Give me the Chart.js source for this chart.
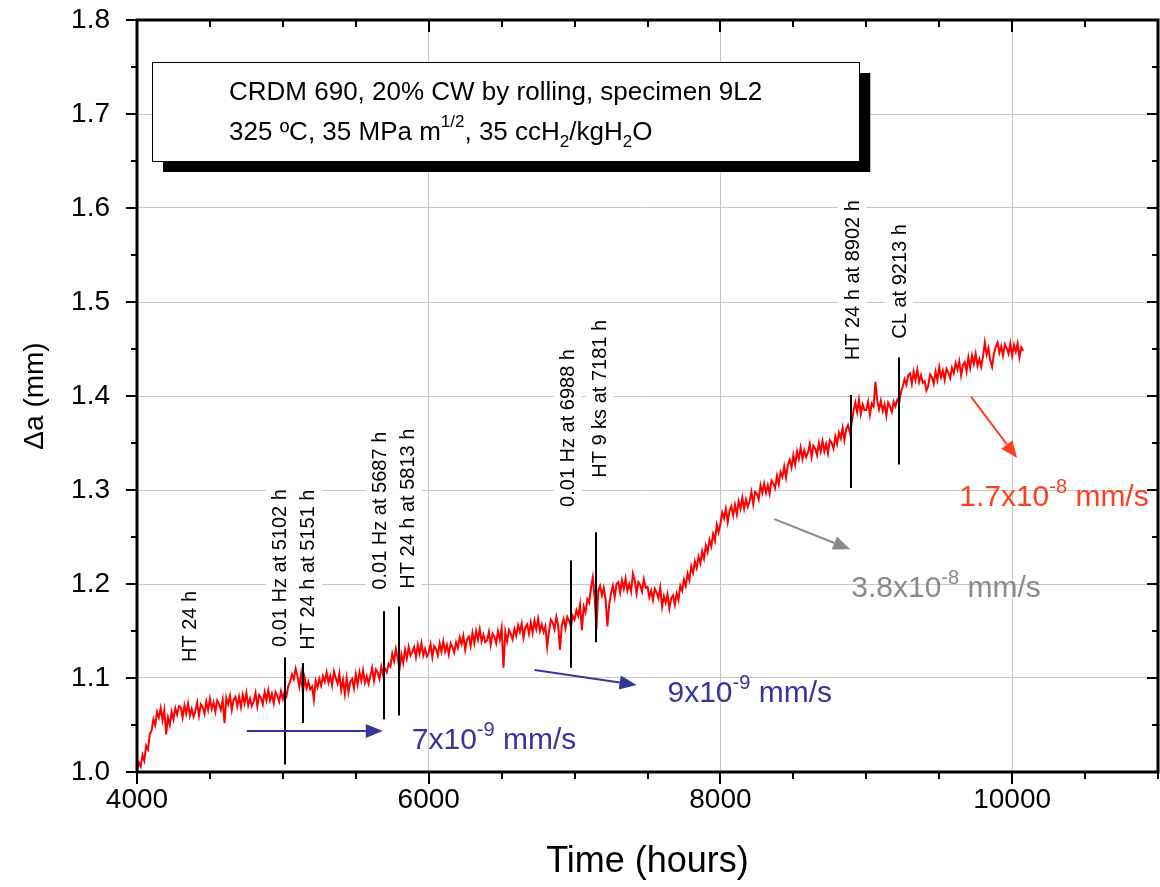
<!DOCTYPE html>
<html>
<head>
<meta charset="utf-8">
<script src="https://cdn.jsdelivr.net/npm/chart.js@4.4.0/dist/chart.umd.min.js"></script>
<style>
  html, body { margin: 0; padding: 0; background: #fff; }
  #wrap { width: 1160px; height: 887px; }
</style>
</head>
<body>
<div id="wrap"><canvas id="crackChart"></canvas></div>
<script>
// crack extension (mm) against test time (hours)
const times = [
  4000, 4012.5, 4025, 4037.5, 4050, 4062.5, 4075, 4087.5,
  4100, 4112.5, 4125, 4137.5, 4150, 4162.5, 4175, 4187.5,
  4200, 4212.5, 4225, 4237.5, 4250, 4262.5, 4275, 4287.5,
  4300, 4312.5, 4325, 4337.5, 4350, 4362.5, 4375, 4387.5,
  4400, 4412.5, 4425, 4437.5, 4450, 4462.5, 4475, 4487.5,
  4500, 4512.5, 4525, 4537.5, 4550, 4562.5, 4575, 4587.5,
  4600, 4612.5, 4625, 4637.5, 4650, 4662.5, 4675, 4687.5,
  4700, 4712.5, 4725, 4737.5, 4750, 4762.5, 4775, 4787.5,
  4800, 4812.5, 4825, 4837.5, 4850, 4862.5, 4875, 4887.5,
  4900, 4912.5, 4925, 4937.5, 4950, 4962.5, 4975, 4987.5,
  5000, 5012.5, 5025, 5037.5, 5050, 5062.5, 5075, 5087.5,
  5100, 5112.5, 5125, 5137.5, 5150, 5162.5, 5175, 5187.5,
  5200, 5212.5, 5225, 5237.5, 5250, 5262.5, 5275, 5287.5,
  5300, 5312.5, 5325, 5337.5, 5350, 5362.5, 5375, 5387.5,
  5400, 5412.5, 5425, 5437.5, 5450, 5462.5, 5475, 5487.5,
  5500, 5512.5, 5525, 5537.5, 5550, 5562.5, 5575, 5587.5,
  5600, 5612.5, 5625, 5637.5, 5650, 5662.5, 5675, 5687.5,
  5700, 5712.5, 5725, 5737.5, 5750, 5762.5, 5775, 5787.5,
  5800, 5812.5, 5825, 5837.5, 5850, 5862.5, 5875, 5887.5,
  5900, 5912.5, 5925, 5937.5, 5950, 5962.5, 5975, 5987.5,
  6000, 6012.5, 6025, 6037.5, 6050, 6062.5, 6075, 6087.5,
  6100, 6112.5, 6125, 6137.5, 6150, 6162.5, 6175, 6187.5,
  6200, 6212.5, 6225, 6237.5, 6250, 6262.5, 6275, 6287.5,
  6300, 6312.5, 6325, 6337.5, 6350, 6362.5, 6375, 6387.5,
  6400, 6412.5, 6425, 6437.5, 6450, 6462.5, 6475, 6487.5,
  6500, 6512.5, 6525, 6537.5, 6550, 6562.5, 6575, 6587.5,
  6600, 6612.5, 6625, 6637.5, 6650, 6662.5, 6675, 6687.5,
  6700, 6712.5, 6725, 6737.5, 6750, 6762.5, 6775, 6787.5,
  6800, 6812.5, 6825, 6837.5, 6850, 6862.5, 6875, 6887.5,
  6900, 6912.5, 6925, 6937.5, 6950, 6962.5, 6975, 6987.5,
  7000, 7012.5, 7025, 7037.5, 7050, 7062.5, 7075, 7087.5,
  7100, 7112.5, 7125, 7137.5, 7150, 7162.5, 7175, 7187.5,
  7200, 7212.5, 7225, 7237.5, 7250, 7262.5, 7275, 7287.5,
  7300, 7312.5, 7325, 7337.5, 7350, 7362.5, 7375, 7387.5,
  7400, 7412.5, 7425, 7437.5, 7450, 7462.5, 7475, 7487.5,
  7500, 7512.5, 7525, 7537.5, 7550, 7562.5, 7575, 7587.5,
  7600, 7612.5, 7625, 7637.5, 7650, 7662.5, 7675, 7687.5,
  7700, 7712.5, 7725, 7737.5, 7750, 7762.5, 7775, 7787.5,
  7800, 7812.5, 7825, 7837.5, 7850, 7862.5, 7875, 7887.5,
  7900, 7912.5, 7925, 7937.5, 7950, 7962.5, 7975, 7987.5,
  8000, 8012.5, 8025, 8037.5, 8050, 8062.5, 8075, 8087.5,
  8100, 8112.5, 8125, 8137.5, 8150, 8162.5, 8175, 8187.5,
  8200, 8212.5, 8225, 8237.5, 8250, 8262.5, 8275, 8287.5,
  8300, 8312.5, 8325, 8337.5, 8350, 8362.5, 8375, 8387.5,
  8400, 8412.5, 8425, 8437.5, 8450, 8462.5, 8475, 8487.5,
  8500, 8512.5, 8525, 8537.5, 8550, 8562.5, 8575, 8587.5,
  8600, 8612.5, 8625, 8637.5, 8650, 8662.5, 8675, 8687.5,
  8700, 8712.5, 8725, 8737.5, 8750, 8762.5, 8775, 8787.5,
  8800, 8812.5, 8825, 8837.5, 8850, 8862.5, 8875, 8887.5,
  8900, 8912.5, 8925, 8937.5, 8950, 8962.5, 8975, 8987.5,
  9000, 9012.5, 9025, 9037.5, 9050, 9062.5, 9075, 9087.5,
  9100, 9112.5, 9125, 9137.5, 9150, 9162.5, 9175, 9187.5,
  9200, 9212.5, 9225, 9237.5, 9250, 9262.5, 9275, 9287.5,
  9300, 9312.5, 9325, 9337.5, 9350, 9362.5, 9375, 9387.5,
  9400, 9412.5, 9425, 9437.5, 9450, 9462.5, 9475, 9487.5,
  9500, 9512.5, 9525, 9537.5, 9550, 9562.5, 9575, 9587.5,
  9600, 9612.5, 9625, 9637.5, 9650, 9662.5, 9675, 9687.5,
  9700, 9712.5, 9725, 9737.5, 9750, 9762.5, 9775, 9787.5,
  9800, 9812.5, 9825, 9837.5, 9850, 9862.5, 9875, 9887.5,
  9900, 9912.5, 9925, 9937.5, 9950, 9962.5, 9975, 9987.5,
  10000, 10012.5, 10025, 10037.5, 10050, 10062.5, 10075
];

const crackGrowth = [
  1.002, 1.010, 1.006, 1.018, 1.012, 1.028, 1.024, 1.040,
  1.044, 1.056, 1.050, 1.064, 1.058, 1.068, 1.055, 1.066,
  1.040, 1.058, 1.050, 1.064, 1.056, 1.068, 1.061, 1.070,
  1.069, 1.058, 1.071, 1.062, 1.073, 1.060, 1.067, 1.059,
  1.065, 1.074, 1.060, 1.072, 1.069, 1.062, 1.075, 1.066,
  1.078, 1.067, 1.074, 1.064, 1.076, 1.072, 1.066, 1.077,
  1.052, 1.079, 1.072, 1.081, 1.066, 1.077, 1.080, 1.070,
  1.080, 1.069, 1.082, 1.073, 1.084, 1.071, 1.078, 1.070,
  1.075, 1.084, 1.070, 1.082, 1.079, 1.072, 1.085, 1.076,
  1.087, 1.076, 1.083, 1.073, 1.085, 1.081, 1.075, 1.086,
  1.078, 1.086, 1.081, 1.092, 1.096, 1.104, 1.099, 1.110,
  1.102, 1.091, 1.104, 1.084, 1.100, 1.089, 1.096, 1.088,
  1.091, 1.077, 1.097, 1.090, 1.099, 1.092, 1.102, 1.096,
  1.106, 1.095, 1.102, 1.092, 1.107, 1.100, 1.094, 1.105,
  1.087, 1.098, 1.083, 1.100, 1.085, 1.096, 1.099, 1.089,
  1.104, 1.093, 1.106, 1.097, 1.108, 1.095, 1.102, 1.094,
  1.102, 1.111, 1.097, 1.109, 1.106, 1.099, 1.112, 1.103,
  1.110, 1.106, 1.115, 1.112, 1.126, 1.118, 1.131, 1.121,
  1.110, 1.125, 1.116, 1.130, 1.121, 1.133, 1.124, 1.128,
  1.133, 1.122, 1.135, 1.126, 1.137, 1.124, 1.131, 1.123,
  1.127, 1.136, 1.122, 1.134, 1.131, 1.124, 1.137, 1.128,
  1.139, 1.128, 1.135, 1.125, 1.137, 1.133, 1.127, 1.138,
  1.132, 1.143, 1.136, 1.145, 1.130, 1.141, 1.144, 1.134,
  1.148, 1.137, 1.150, 1.141, 1.152, 1.139, 1.146, 1.138,
  1.140, 1.149, 1.135, 1.147, 1.144, 1.137, 1.150, 1.141,
  1.153, 1.111, 1.149, 1.139, 1.151, 1.147, 1.141, 1.152,
  1.145, 1.156, 1.149, 1.158, 1.143, 1.154, 1.157, 1.147,
  1.159, 1.148, 1.161, 1.152, 1.163, 1.150, 1.157, 1.149,
  1.155, 1.133, 1.150, 1.162, 1.159, 1.152, 1.165, 1.156,
  1.130, 1.156, 1.163, 1.153, 1.165, 1.161, 1.155, 1.166,
  1.162, 1.172, 1.166, 1.178, 1.151, 1.176, 1.170, 1.184,
  1.180, 1.196, 1.207, 1.186, 1.152, 1.193, 1.198, 1.188,
  1.196, 1.184, 1.155, 1.178, 1.190, 1.198, 1.186, 1.200,
  1.202, 1.191, 1.204, 1.195, 1.206, 1.193, 1.200, 1.192,
  1.211, 1.204, 1.190, 1.202, 1.199, 1.192, 1.205, 1.196,
  1.197, 1.186, 1.193, 1.183, 1.195, 1.191, 1.185, 1.196,
  1.176, 1.187, 1.180, 1.189, 1.174, 1.185, 1.188, 1.178,
  1.190, 1.183, 1.198, 1.193, 1.205, 1.198, 1.211, 1.204,
  1.219, 1.212, 1.224, 1.217, 1.229, 1.222, 1.235, 1.227,
  1.241, 1.234, 1.247, 1.240, 1.253, 1.246, 1.263, 1.255,
  1.264, 1.276, 1.270, 1.280, 1.266, 1.278, 1.283, 1.273,
  1.284, 1.274, 1.288, 1.280, 1.292, 1.280, 1.290, 1.282,
  1.288, 1.298, 1.285, 1.298, 1.296, 1.290, 1.305, 1.297,
  1.307, 1.297, 1.305, 1.296, 1.310, 1.307, 1.302, 1.315,
  1.306, 1.319, 1.314, 1.325, 1.313, 1.327, 1.332, 1.324,
  1.337, 1.327, 1.341, 1.333, 1.345, 1.333, 1.342, 1.335,
  1.340, 1.349, 1.335, 1.347, 1.344, 1.337, 1.350, 1.341,
  1.352, 1.341, 1.349, 1.339, 1.353, 1.350, 1.344, 1.357,
  1.349, 1.361, 1.355, 1.366, 1.353, 1.365, 1.369, 1.361,
  1.372, 1.384, 1.393, 1.383, 1.396, 1.381, 1.391, 1.385,
  1.385, 1.394, 1.380, 1.392, 1.389, 1.415, 1.395, 1.386,
  1.395, 1.384, 1.391, 1.379, 1.393, 1.389, 1.383, 1.394,
  1.389, 1.396, 1.392, 1.404, 1.410, 1.418, 1.412, 1.422,
  1.424, 1.413, 1.426, 1.417, 1.428, 1.415, 1.422, 1.414,
  1.416, 1.406, 1.411, 1.423, 1.420, 1.413, 1.426, 1.417,
  1.431, 1.420, 1.427, 1.417, 1.429, 1.425, 1.419, 1.430,
  1.424, 1.435, 1.428, 1.437, 1.422, 1.433, 1.436, 1.426,
  1.441, 1.430, 1.443, 1.434, 1.445, 1.432, 1.439, 1.431,
  1.442, 1.457, 1.444, 1.451, 1.438, 1.431, 1.445, 1.452,
  1.457, 1.446, 1.453, 1.443, 1.455, 1.451, 1.445, 1.456,
  1.443, 1.454, 1.447, 1.456, 1.441, 1.452, 1.448
];

const xTickValues = [4000, 6000, 8000, 10000];

// vertical event markers (hours, low mm, high mm)
const eventTimes = [5014, 5135, 5692, 5797, 6977, 7149, 8895, 9221];
const eventLow = [1.008, 1.052, 1.056, 1.060, 1.111, 1.138, 1.302, 1.327];
const eventHigh = [1.122, 1.116, 1.171, 1.176, 1.225, 1.255, 1.401, 1.441];

// rotated notes: text, centre time, bottom of text (mm)
const noteTexts = ['HT 24 h', '0.01 Hz at 5102 h', 'HT 24 h at 5151 h', '0.01 Hz at 5687 h',
  'HT 24 h at 5813 h', '0.01 Hz at 6988 h', 'HT 9 ks at 7181 h', 'HT 24 h at 8902 h', 'CL at 9213 h'];
const noteTimes = [4363, 4979, 5171, 5664, 5856, 6952, 7171, 8904, 9226];
const noteBase = [1.117, 1.133, 1.130, 1.194, 1.195, 1.282, 1.313, 1.438, 1.461];

// growth rate labels and arrows
const rateMantissa = ['7x10', '9x10', '3.8x10', '1.7x10'];
const rateExponent = ['-9', '-9', '-8', '-8'];
const rateColors = ['#35359a', '#35359a', '#8a8a8a', '#ff4020'];
const rateTextAt = [[5884, 1.0245], [7637, 1.0745], [8897, 1.186], [9637, 1.283]];
const arrowFrom = [[4753, 1.0436], [6726, 1.1085], [8370, 1.269], [9719, 1.399]];
const arrowTo = [[5685, 1.0436], [7425, 1.0926], [8890, 1.237], [10034, 1.334]];

// legend box corners (hours, mm)
const boxTimes = [4103, 8952];
const boxMm = [1.7553, 1.65];

const FONT = '"Liberation Sans", Arial, sans-serif';
Chart.defaults.font.family = FONT;
Chart.defaults.color = '#000';

function richText(ctx, parts, x, y, color) {
  // parts: [text, raise, size]
  ctx.fillStyle = color;
  ctx.textAlign = 'left';
  ctx.textBaseline = 'alphabetic';
  let cx = x;
  parts.forEach(([t, dy, size]) => {
    ctx.font = size + 'px ' + FONT;
    ctx.fillText(t, cx, y + dy);
    cx += ctx.measureText(t).width;
  });
}

function arrow(ctx, x1, y1, x2, y2, color) {
  const ang = Math.atan2(y2 - y1, x2 - x1);
  const len = 17, half = 7;
  const bx = x2 - len * Math.cos(ang), by = y2 - len * Math.sin(ang);
  ctx.strokeStyle = color;
  ctx.fillStyle = color;
  ctx.lineWidth = 2;
  ctx.beginPath();
  ctx.moveTo(x1, y1);
  ctx.lineTo(bx, by);
  ctx.stroke();
  ctx.beginPath();
  ctx.moveTo(x2, y2);
  ctx.lineTo(bx + half * Math.sin(ang), by - half * Math.cos(ang));
  ctx.lineTo(bx - half * Math.sin(ang), by + half * Math.cos(ang));
  ctx.closePath();
  ctx.fill();
}

const overlay = {
  id: 'overlay',
  beforeDatasetsDraw(chart) {
    const { ctx, scales: { x, y } } = chart;
    ctx.save();
    ctx.font = '20px ' + FONT;
    noteTexts.forEach((txt, i) => {
      const px = x.getPixelForValue(noteTimes[i]);
      const py = y.getPixelForValue(noteBase[i]);
      const w = ctx.measureText(txt).width;
      ctx.fillStyle = '#fff';
      ctx.fillRect(px - 14, py - w - 5, 28, w + 10);
      ctx.save();
      ctx.translate(px, py);
      ctx.rotate(-Math.PI / 2);
      ctx.fillStyle = '#000';
      ctx.textAlign = 'left';
      ctx.textBaseline = 'middle';
      ctx.fillText(txt, 0, 1);
      ctx.restore();
    });
    ctx.restore();
  },
  afterDatasetsDraw(chart) {
    const { ctx, scales: { x, y } } = chart;
    ctx.save();
    // event markers
    ctx.strokeStyle = '#000';
    ctx.lineWidth = 2;
    eventTimes.forEach((t, i) => {
      const px = Math.round(x.getPixelForValue(t));
      ctx.beginPath();
      ctx.moveTo(px, y.getPixelForValue(eventLow[i]));
      ctx.lineTo(px, y.getPixelForValue(eventHigh[i]));
      ctx.stroke();
    });
    // rate arrows and labels
    rateMantissa.forEach((m, i) => {
      arrow(ctx, x.getPixelForValue(arrowFrom[i][0]), y.getPixelForValue(arrowFrom[i][1]),
        x.getPixelForValue(arrowTo[i][0]), y.getPixelForValue(arrowTo[i][1]), rateColors[i]);
      richText(ctx, [[m, 0, 30], [rateExponent[i], -13, 20], [' mm/s', 0, 30]],
        x.getPixelForValue(rateTextAt[i][0]), y.getPixelForValue(rateTextAt[i][1]), rateColors[i]);
    });
    // legend box with shadow
    const bl = x.getPixelForValue(boxTimes[0]), br = x.getPixelForValue(boxTimes[1]);
    const bt = y.getPixelForValue(boxMm[0]), bb = y.getPixelForValue(boxMm[1]);
    ctx.fillStyle = '#000';
    ctx.fillRect(bl + 11, bt + 11, br - bl, bb - bt);
    ctx.fillStyle = '#fff';
    ctx.fillRect(bl, bt, br - bl, bb - bt);
    ctx.strokeStyle = '#000';
    ctx.lineWidth = 1;
    ctx.strokeRect(Math.round(bl) + 0.5, Math.round(bt) + 0.5, Math.round(br - bl), Math.round(bb - bt));
    richText(ctx, [['CRDM 690, 20% CW by rolling, specimen 9L2', 0, 26]], bl + 77, bt + 38, '#000');
    richText(ctx, [['325 \u00baC, 35 MPa m', 0, 26], ['1/2', -13, 17], [', 35 ccH', 0, 26], ['2', 7, 17],
      ['/kgH', 0, 26], ['2', 7, 17], ['O', 0, 26]], bl + 77, bt + 78, '#000');
    ctx.restore();
  },
  afterDraw(chart) {
    const { ctx, chartArea: a, scales: { x, y } } = chart;
    ctx.save();
    ctx.strokeStyle = '#000';
    ctx.lineWidth = 2;
    for (let v = x.min; v <= x.max; v += 500) {
      const px = Math.round(x.getPixelForValue(v));
      const l = (v - x.min) % 2000 === 0 ? 12 : 7;
      ctx.beginPath();
      ctx.moveTo(px, a.bottom); ctx.lineTo(px, a.bottom + l);
      ctx.moveTo(px, a.top); ctx.lineTo(px, a.top + l);
      ctx.stroke();
    }
    for (let k = 0; k <= 16; k++) {
      const py = Math.round(y.getPixelForValue(y.min + k * 0.05));
      const l = k % 2 === 0 ? 11 : 6;
      ctx.beginPath();
      ctx.moveTo(a.left - l, py); ctx.lineTo(a.left, py);
      ctx.moveTo(a.right - l, py); ctx.lineTo(a.right, py);
      ctx.stroke();
    }
    ctx.lineWidth = 3;
    ctx.strokeRect(a.left, a.top, a.right - a.left, a.bottom - a.top);
    ctx.restore();
  }
};

new Chart(document.getElementById('crackChart'), {
  type: 'line',
  data: {
    datasets: [{
      data: times.map((t, i) => ({ x: t, y: crackGrowth[i] })),
      borderColor: '#ff0000',
      borderWidth: 2,
      pointRadius: 0,
      tension: 0,
      fill: false
    }]
  },
  options: {
    responsive: true,
    maintainAspectRatio: false,
    animation: false,
    layout: { padding: { top: 20, right: 2, left: 0, bottom: 0 } },
    plugins: { legend: { display: false }, tooltip: { enabled: false } },
    scales: {
      x: {
        type: 'linear',
        min: 4000,
        max: 11000,
        afterBuildTicks: s => { s.ticks = xTickValues.map(v => ({ value: v })); },
        afterFit: s => { s.height = 115; s.paddingLeft = 0; s.paddingRight = 0; },
        border: { display: false },
        grid: { color: '#c8c8c8', lineWidth: 1, drawTicks: false },
        ticks: { padding: 11, maxRotation: 0, font: { size: 28 }, callback: v => String(v) },
        title: { display: true, text: 'Time (hours)', font: { size: 36 }, padding: { top: 0, bottom: 3 } }
      },
      y: {
        min: 1.0,
        max: 1.8,
        afterFit: s => { s.width = 137; s.paddingTop = 0; s.paddingBottom = 0; },
        border: { display: false },
        grid: { color: '#c8c8c8', lineWidth: 1, drawTicks: false },
        ticks: { stepSize: 0.1, padding: 27, font: { size: 28 }, callback: v => Number(v).toFixed(1) },
        title: { display: true, text: '\u0394a (mm)', font: { size: 28 }, padding: { top: 18, bottom: 0 } }
      }
    }
  },
  plugins: [overlay]
});
</script>
</body>
</html>
